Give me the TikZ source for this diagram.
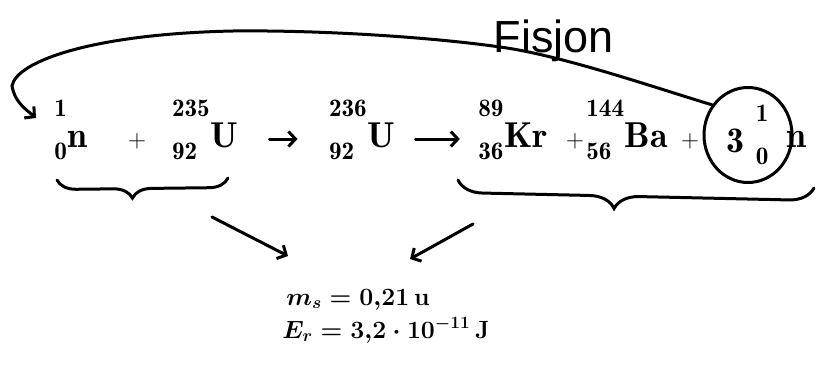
\documentclass[tikz,border=0pt]{standalone}
\usepackage{fontspec}
\newfontfamily\headfont{Liberation Sans}
\usetikzlibrary{arrows.meta, shapes.geometric, decorations.pathreplacing}

% isotope with mass number and charge number
\newcommand{\iso}[3]{{\rule[-0.3em]{0pt}{1.42em}}^{\mathbf{#1}}_{\mathbf{#2}}\mathbf{#3}}

\begin{document}
\begin{tikzpicture}[
    x=1pt,
    y=-1pt,
    line width=3pt,
    line cap=round,
    >={Straight Barb[length=7pt,width=15pt]},
    term/.style={
        anchor=base,
        inner sep=2pt,
        font=\fontsize{36}{42}\selectfont,
    },
    result/.style={
        anchor=base,
        inner sep=2pt,
        font=\fontsize{24}{28}\selectfont\boldmath,
    },
    grp/.style={
        decorate,
        decoration={brace, mirror, amplitude=#1, aspect=0.44},
    },
]
\useasboundingbox (0,0) rectangle (816,372);

% --- Title ---
\node[anchor=base, inner sep=0pt, font=\headfont\fontsize{45}{50}\selectfont]
    (title) at (554,52) {Fisjon};

% --- Reaction ---
\node[term] (n1)    at (71,147)  {$\iso{1}{0}{n}$};
\node[term] (plus1) at (137,147) {$\mathbf{+}$};
\node[term] (u235)  at (205,147) {$\iso{235}{92}{U}$};
\node[term] (u236)  at (362,147) {$\iso{236}{92}{U}$};
\node[term] (kr)    at (513,147) {$\iso{89}{36}{Kr}$};
\node[term] (plus2) at (575,147) {$\mathbf{+}$};
\node[term] (ba)    at (627,147) {$\iso{144}{56}{Ba}$};
\node[term] (plus3) at (690,147) {$\mathbf{+}$};
\node[draw, ellipse, inner sep=0pt, minimum width=88pt, minimum height=95pt,
      font=\fontsize{36}{42}\selectfont]
    (tre) at (748,135) {$\mathbf{3}\;\,\iso{1}{0}{}$};
\node[term] (n3)    at (796,147) {$\mathbf{n}$};

\draw[->, shorten <=28pt, shorten >=28pt]
    ([yshift=8pt]u235.base east) -- ([yshift=8pt]u236.base west);
\draw[->, shorten <=17pt, shorten >=15pt]
    ([yshift=8pt]u236.base east) -- ([yshift=8pt]kr.base west);

% --- Neutron back to the start ---
\coordinate (back) at (36,118);
\draw[->] (tre.140) .. controls (650,86) and (560,55) .. (500,47)
    .. controls (430,37) and (320,30) .. (233,31)
    .. controls (90,34) and (16,62) .. (12,86)
    to[out=-80, in=140] (back);

% --- Groups ---
\coordinate (g1a) at (57,180);
\coordinate (g1b) at (228,178);
\coordinate (g2a) at (458,180);
\coordinate (g2b) at (814,188);
\draw[grp=19pt] (g1a) -- (g1b);
\draw[grp=25pt] (g2a) -- (g2b);

% --- Results ---
\node[result] (ms) at (358,305) {$m_s = 0{,}21\,\mathbf{u}$};
\node[result] (er) at (386,338) {$E_r = 3{,}2\cdot 10^{-11}\,\mathbf{J}$};

\coordinate (from1) at (212,217);
\coordinate (to1)   at (288,256);
\coordinate (from2) at (473,224);
\coordinate (to2)   at (410,259);
\draw[->] (from1) -- (to1);
\draw[->] (from2) -- (to2);

\end{tikzpicture}
\end{document}
